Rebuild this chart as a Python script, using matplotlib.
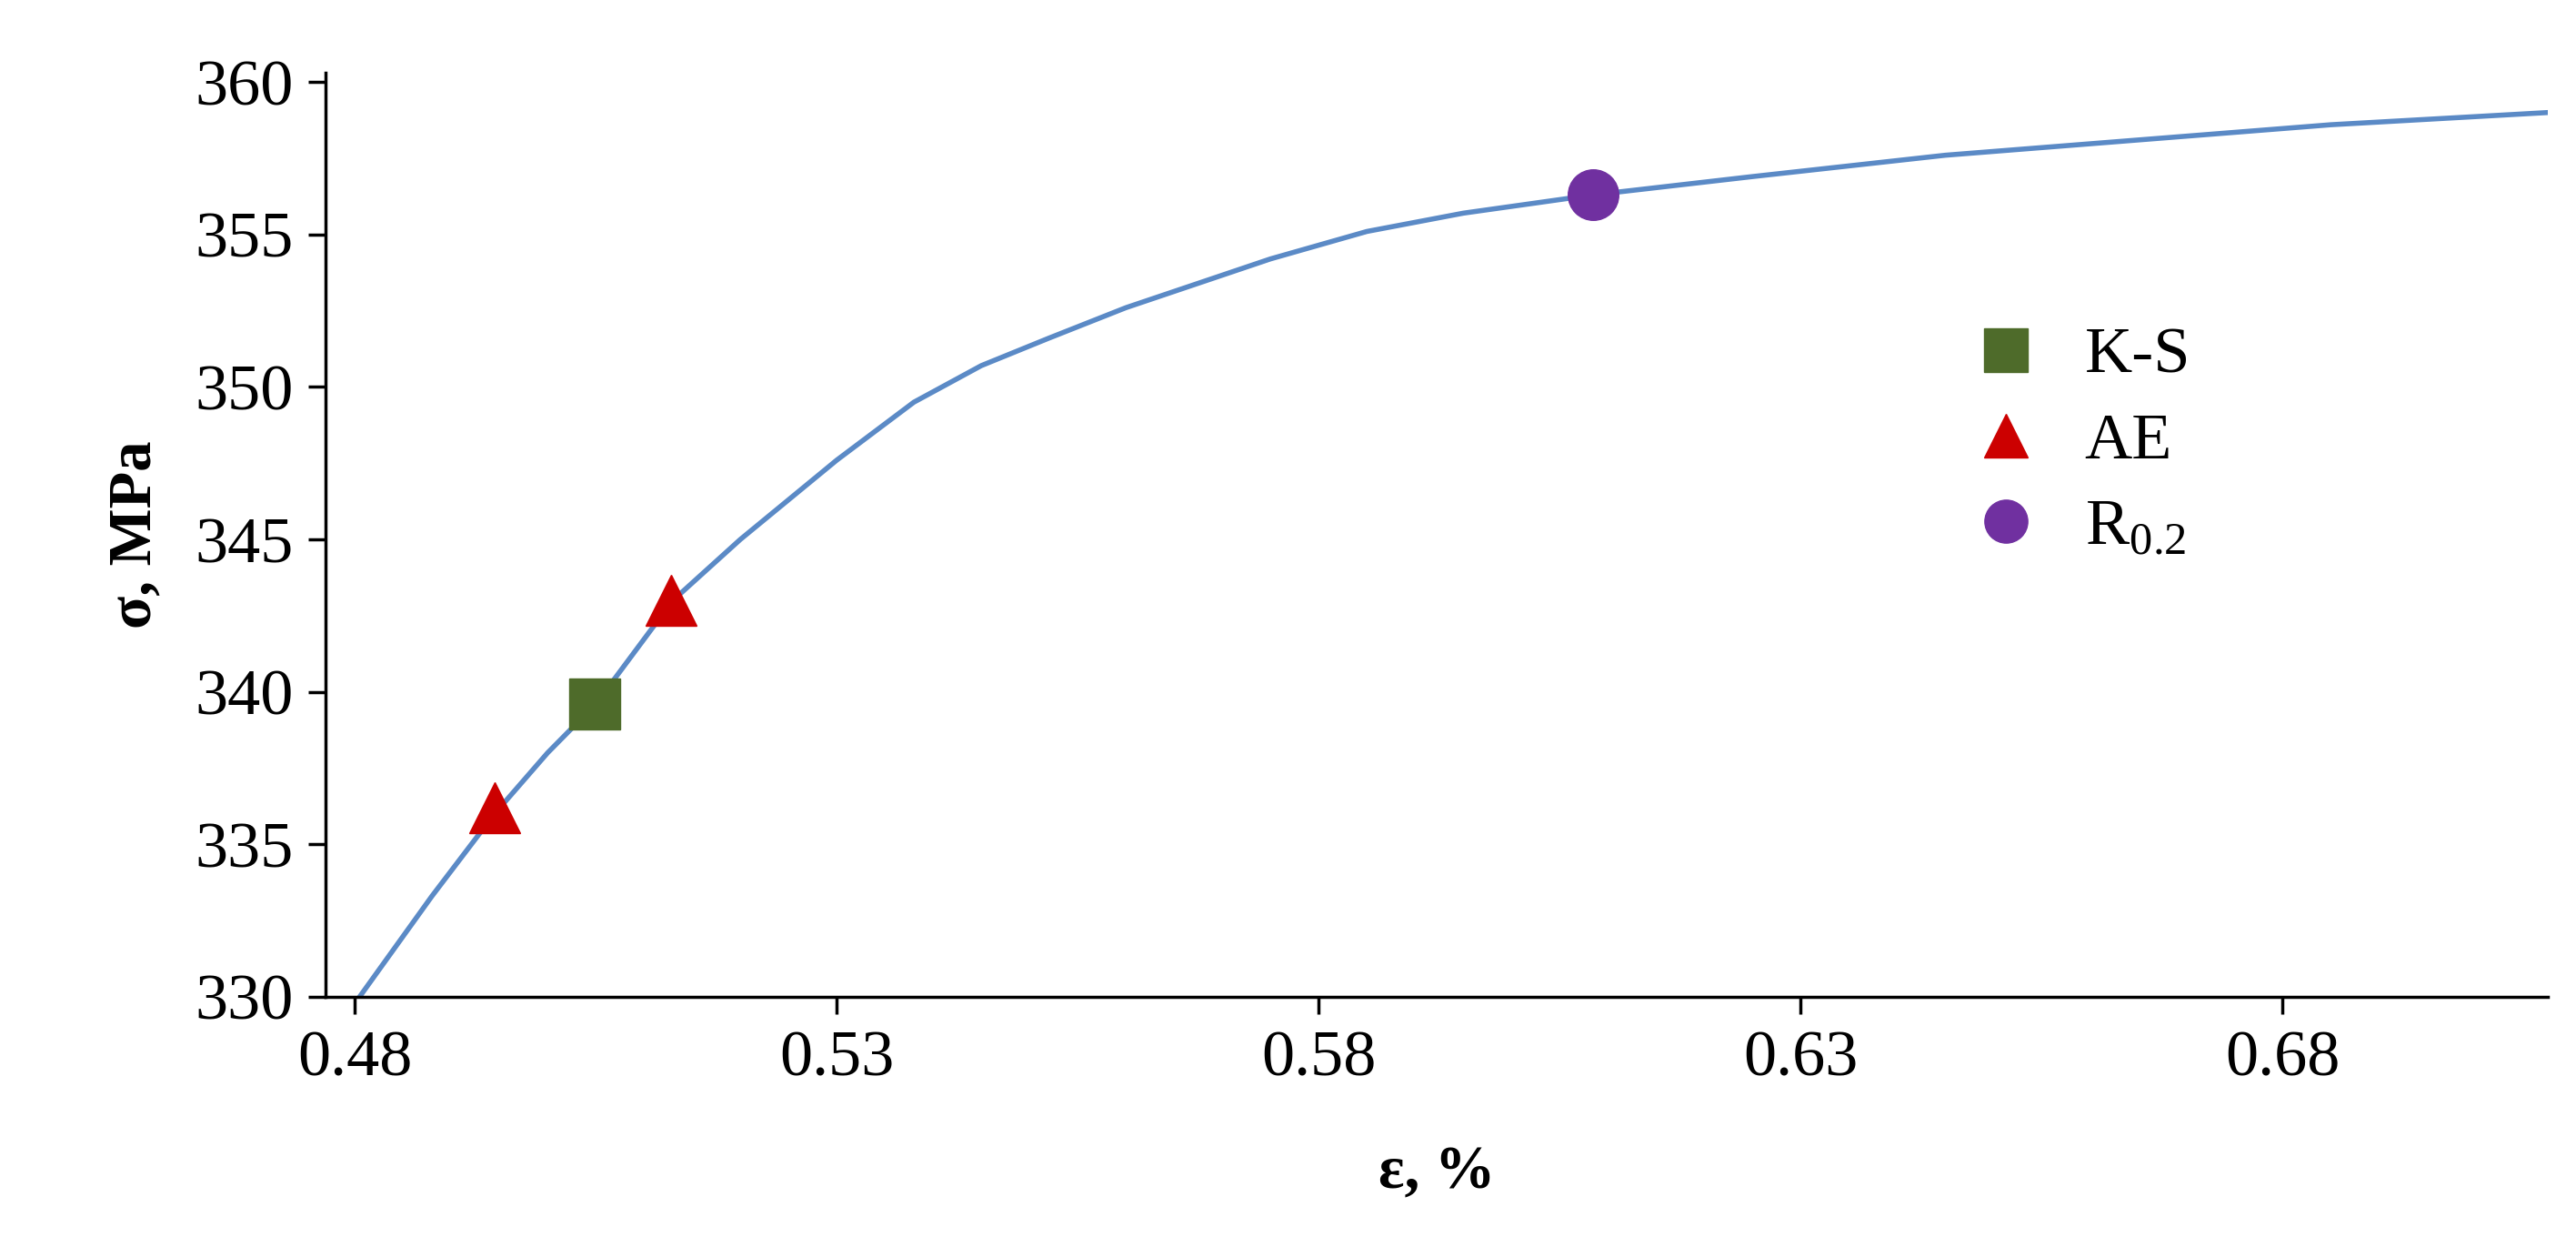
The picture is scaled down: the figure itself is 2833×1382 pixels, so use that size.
import matplotlib
matplotlib.use('Agg')
from matplotlib import pyplot as plt

# stress-strain curve
eps = [0.4805, 0.488, 0.4945, 0.5, 0.505, 0.509, 0.513, 0.52, 0.53, 0.538, 0.545,
       0.552, 0.56, 0.575, 0.585, 0.595, 0.6085, 0.625, 0.645, 0.665, 0.685, 0.7075]
sig = [330.0, 333.3, 336.0, 338.0, 339.6, 341.3, 343.0, 345.0, 347.6, 349.5, 350.7,
       351.6, 352.6, 354.2, 355.1, 355.7, 356.3, 356.9, 357.6, 358.1, 358.6, 359.0]

ks_x, ks_y = [0.5049], [339.6]
ae_x, ae_y = [0.4945, 0.5128], [336.2, 343.0]
r_x, r_y = [0.6085], [356.3]

plt.rcParams['font.family'] = 'Liberation Serif'
plt.rcParams['mathtext.fontset'] = 'custom'
plt.rcParams['mathtext.rm'] = 'Liberation Serif'

fig = plt.figure(figsize=(28.33, 13.82), dpi=100)
ax = fig.add_axes([0.1265, 0.207, 0.8625, 0.735])

ax.plot(eps, sig, color='#5b8ac6', lw=4, zorder=1)
ax.plot(ks_x, ks_y, 's', color='#4e6b2a', ms=40, label='K-S', zorder=3)
ax.plot(ae_x, ae_y, '^', color='#cc0000', ms=40, label='AE', zorder=3)
ax.plot(r_x, r_y, 'o', color='#7030a0', ms=40, label=r'R$_{\mathrm{0.2}}$', zorder=3)

ax.set_xlim(0.477, 0.7075)
ax.set_ylim(330, 360.3)
ax.set_xticks([0.48, 0.53, 0.58, 0.63, 0.68])
ax.set_xticklabels(['0.48', '0.53', '0.58', '0.63', '0.68'])
ax.set_yticks(range(330, 361, 5))
ax.tick_params(labelsize=52, length=14, width=2.5, direction='out', pad=12)
for s in ['top', 'right']:
    ax.spines[s].set_visible(False)
for s in ['left', 'bottom']:
    ax.spines[s].set_linewidth(2.5)

ax.set_xlabel('ε, %', fontsize=48, fontweight='bold', labelpad=45)
ax.set_ylabel('σ, MPa', fontsize=48, fontweight='bold', labelpad=25)

ax.legend(loc='center left', bbox_to_anchor=(0.7, 0.6), frameon=False,
          fontsize=52, markerscale=0.85, handletextpad=0.2, labelspacing=0.4)

plt.savefig('out.png', dpi=100)
